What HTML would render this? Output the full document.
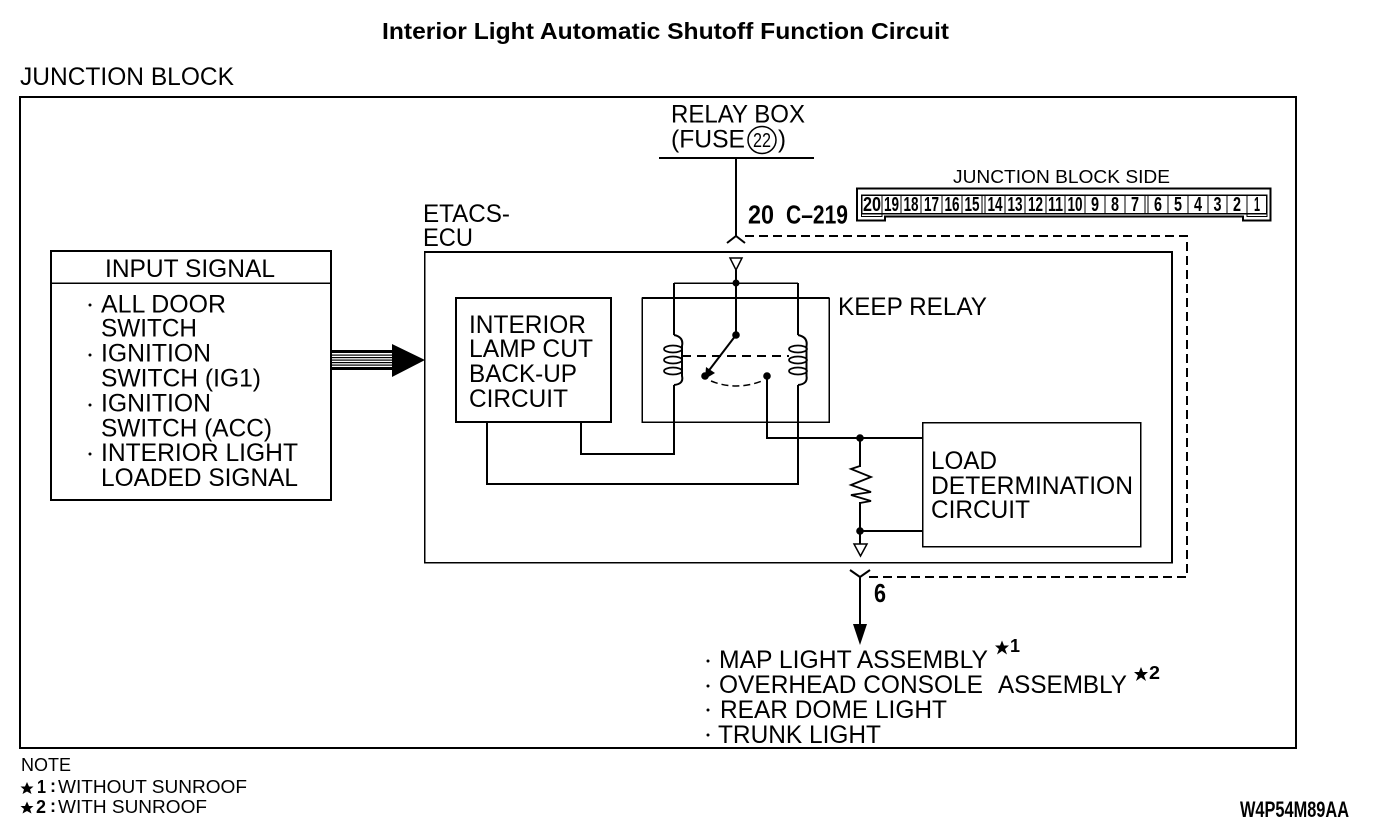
<!DOCTYPE html>
<html><head><meta charset="utf-8"><style>
html,body{margin:0;padding:0;background:#fff}
svg{display:block}
text{font-family:"Liberation Sans",sans-serif;fill:#000}
.l{font-size:25px}
.s{font-size:18px}
.b{font-weight:bold}
.c{font-size:20px;font-weight:bold;text-anchor:middle}
</style></head><body>
<svg width="1392" height="834" viewBox="0 0 1392 834" xmlns="http://www.w3.org/2000/svg">
<rect width="1392" height="834" fill="#fff"/>
<g fill="none" stroke="#000" stroke-width="2" shape-rendering="crispEdges">
<rect x="20" y="97" width="1276" height="651"/>
<rect x="51" y="251" width="280" height="249" stroke-width="1.6"/>
<path d="M51 283H331" stroke-width="1.500"/>
<path d="M659 158H814" />
<path d="M736 158V236"/>
<path d="M424.500 251.500H1172V562.500H424.500Z" stroke-width="1.500"/>
<path d="M1172 251V563"/>
<path d="M425 252H1172"/>
<rect x="456" y="298" width="155" height="124"/>
<path d="M642 298H829V422H642Z" stroke-width="1.500"/>
<path d="M642 298H829" stroke-width="2"/>
<path d="M674 283H798" stroke-width="1.500"/>
<path d="M736 270V335M674 283V335M798 283V335"/>
<path d="M674 385V454H581V422M798 385V484H487V422" stroke-width="1.800"/>
<path d="M767 376V438H922M860 438V467"/>
<rect x="922.500" y="422.500" width="218" height="124" stroke-width="1.500"/>
<path d="M860 502V544M860 531H922"/>
<path d="M860 577V627"/>
<path d="M745 236H1187V577H868" stroke-dasharray="9 5"/>
<path d="M682 356H789" stroke-dasharray="9 6"/>
</g>
<g fill="none" stroke="#000" stroke-width="2">
<path d="M674 335Q684 337 682 346V376Q684 384 674 385"/>
<path d="M798 335Q808 337 806.500 346V376Q808 384 798 385"/>
<ellipse cx="673" cy="349" rx="9" ry="3.500" stroke-width="1.700"/>
<ellipse cx="673" cy="360" rx="9" ry="3.500" stroke-width="1.700"/>
<ellipse cx="673" cy="371" rx="9" ry="3.500" stroke-width="1.700"/>
<ellipse cx="798" cy="349" rx="9" ry="3.500" stroke-width="1.700"/>
<ellipse cx="798" cy="360" rx="9" ry="3.500" stroke-width="1.700"/>
<ellipse cx="798" cy="371" rx="9" ry="3.500" stroke-width="1.700"/>
<path d="M736 335L707 373"/>
<path d="M711 381Q736 391 762 381" stroke-dasharray="7 4" stroke-width="1.500"/>
<path d="M860 466L851 469L871 477L851 485L871 492L851 495L871 501L860 503" stroke-width="1.800"/>
<path d="M727 243L736 236L745 243"/>
<path d="M850 570L860 577L870 570"/>
<path d="M730 258H742L736 270Z" stroke-width="1.500"/>
<path d="M854 544H867L860.500 556Z" stroke-width="1.500"/>
<ellipse cx="762" cy="140" rx="14" ry="13.500" stroke-width="1.500"/>
</g>
<g fill="#000">
<circle cx="736" cy="283" r="3.500"/><circle cx="736" cy="335" r="3.800"/>
<circle cx="705" cy="376" r="3.800"/><circle cx="767" cy="376" r="3.800"/>
<circle cx="860" cy="438" r="3.800"/><circle cx="860" cy="531" r="3.800"/>
<path d="M706 367L715 373L705 379Z"/>
<path d="M853 624H867L860 645Z"/>
<rect x="331" y="350" width="61" height="3"/>
<rect x="331" y="354.500" width="61" height="1.200"/><rect x="331" y="357" width="61" height="1.200"/>
<rect x="331" y="359.500" width="61" height="1.200"/><rect x="331" y="362" width="61" height="1.200"/>
<rect x="331" y="364.500" width="61" height="1.200"/><rect x="331" y="367" width="61" height="3"/>
<path d="M392 344L425 360L392 377Z"/>
<path d="M1002 640.500L1004 645.500L1009 645.500L1005 649L1007 654.500L1002 651L997 654.500L999 649L995 645.500L1000 645.500Z"/>
<path d="M1141 667L1143 672L1148 672L1144 675.500L1146 681L1141 677.500L1136 681L1138 675.500L1134 672L1139 672Z"/>
<path d="M27 782L29 786.500L33.500 786.500L30 789.500L31.500 794L27 791.500L22.500 794L24 789.500L20.500 786.500L25 786.500Z"/>
<path d="M27 801.500L29 806L33.500 806L30 809L31.500 813.500L27 811L22.500 813.500L24 809L20.500 806L25 806Z"/>
<circle cx="90" cy="305" r="1.500"/><circle cx="90" cy="355" r="1.500"/><circle cx="90" cy="405" r="1.500"/><circle cx="90" cy="454" r="1.500"/>
<circle cx="708" cy="661" r="1.500"/><circle cx="708" cy="686" r="1.500"/><circle cx="708" cy="710" r="1.500"/><circle cx="708" cy="735" r="1.500"/>
</g>
<!-- connector -->
<g fill="none" stroke="#000" shape-rendering="crispEdges">
<path d="M857 188.500H1270.500V220.500H1243V216.500H885V220.500H857Z" stroke-width="2"/>
<rect x="861.500" y="195" width="405" height="18.500" stroke-width="1.500"/>
<path d="M861.500 195V216.500H882V213M1247 213V216.500H1267V213" stroke-width="1"/>
<path d="M882 195V213.500M901 195V213.500M921 195V213.500M942 195V213.500M962 195V213.500M982 195V213.500M985 195V213.500M1005 195V213.500M1025 195V213.500M1046 195V213.500M1065 195V213.500M1085 195V213.500M1105 195V213.500M1125 195V213.500M1145 195V213.500M1148 195V213.500M1168 195V213.500M1188 195V213.500M1208 195V213.500M1227 195V213.500M1247 195V213.500" stroke-width="1.200"/>
</g>
<text class="c" x="872" y="211" textLength="18" lengthAdjust="spacingAndGlyphs">20</text>
<text class="c" x="891.500" y="211" textLength="15" lengthAdjust="spacingAndGlyphs">19</text>
<text class="c" x="911" y="211" textLength="15" lengthAdjust="spacingAndGlyphs">18</text>
<text class="c" x="931.500" y="211" textLength="15" lengthAdjust="spacingAndGlyphs">17</text>
<text class="c" x="952" y="211" textLength="15" lengthAdjust="spacingAndGlyphs">16</text>
<text class="c" x="972" y="211" textLength="15" lengthAdjust="spacingAndGlyphs">15</text>
<text class="c" x="995" y="211" textLength="15" lengthAdjust="spacingAndGlyphs">14</text>
<text class="c" x="1015" y="211" textLength="15" lengthAdjust="spacingAndGlyphs">13</text>
<text class="c" x="1035.500" y="211" textLength="15" lengthAdjust="spacingAndGlyphs">12</text>
<text class="c" x="1055.500" y="211" textLength="15" lengthAdjust="spacingAndGlyphs">11</text>
<text class="c" x="1075" y="211" textLength="15" lengthAdjust="spacingAndGlyphs">10</text>
<text class="c" x="1095" y="211" textLength="8" lengthAdjust="spacingAndGlyphs">9</text>
<text class="c" x="1115" y="211" textLength="8" lengthAdjust="spacingAndGlyphs">8</text>
<text class="c" x="1135" y="211" textLength="8" lengthAdjust="spacingAndGlyphs">7</text>
<text class="c" x="1158" y="211" textLength="8" lengthAdjust="spacingAndGlyphs">6</text>
<text class="c" x="1178" y="211" textLength="8" lengthAdjust="spacingAndGlyphs">5</text>
<text class="c" x="1198" y="211" textLength="8" lengthAdjust="spacingAndGlyphs">4</text>
<text class="c" x="1217.500" y="211" textLength="8" lengthAdjust="spacingAndGlyphs">3</text>
<text class="c" x="1237" y="211" textLength="8" lengthAdjust="spacingAndGlyphs">2</text>
<text class="c" x="1257" y="211" textLength="6" lengthAdjust="spacingAndGlyphs">1</text>
<!-- text -->
<text class="b" x="382" y="39" font-size="23" textLength="567" lengthAdjust="spacingAndGlyphs">Interior Light Automatic Shutoff Function Circuit</text>
<text class="l" x="20" y="85" textLength="214" lengthAdjust="spacingAndGlyphs">JUNCTION BLOCK</text>
<text class="l" x="671" y="122.500" textLength="134" lengthAdjust="spacingAndGlyphs">RELAY BOX</text>
<text class="l" x="671" y="147.500" textLength="74" lengthAdjust="spacingAndGlyphs">(FUSE</text>
<text x="753" y="147" font-size="20" textLength="18" lengthAdjust="spacingAndGlyphs">22</text>
<text class="l" x="778" y="147.500" textLength="8" lengthAdjust="spacingAndGlyphs">)</text>
<text class="s" x="953" y="183" textLength="217" lengthAdjust="spacingAndGlyphs">JUNCTION BLOCK SIDE</text>
<text class="b" x="748" y="223.500" font-size="26" textLength="26" lengthAdjust="spacingAndGlyphs">20</text>
<text class="b" x="786" y="223.500" font-size="26" textLength="62" lengthAdjust="spacingAndGlyphs">C–219</text>
<text class="l" x="423" y="222" textLength="87" lengthAdjust="spacingAndGlyphs">ETACS-</text>
<text class="l" x="423" y="246" textLength="50" lengthAdjust="spacingAndGlyphs">ECU</text>
<text class="l" x="105" y="277" textLength="170" lengthAdjust="spacingAndGlyphs">INPUT SIGNAL</text>
<text class="l" x="101" y="312.500" textLength="125" lengthAdjust="spacingAndGlyphs">ALL DOOR</text>
<text class="l" x="101" y="336.500" textLength="96" lengthAdjust="spacingAndGlyphs">SWITCH</text>
<text class="l" x="101" y="361.500" textLength="110" lengthAdjust="spacingAndGlyphs">IGNITION</text>
<text class="l" x="101" y="386.500" textLength="160" lengthAdjust="spacingAndGlyphs">SWITCH (IG1)</text>
<text class="l" x="101" y="411.500" textLength="110" lengthAdjust="spacingAndGlyphs">IGNITION</text>
<text class="l" x="101" y="436.500" textLength="171" lengthAdjust="spacingAndGlyphs">SWITCH (ACC)</text>
<text class="l" x="101" y="461" textLength="197" lengthAdjust="spacingAndGlyphs">INTERIOR LIGHT</text>
<text class="l" x="101" y="486" textLength="197" lengthAdjust="spacingAndGlyphs">LOADED SIGNAL</text>
<text class="l" x="469" y="333" textLength="117" lengthAdjust="spacingAndGlyphs">INTERIOR</text>
<text class="l" x="469" y="357" textLength="124" lengthAdjust="spacingAndGlyphs">LAMP CUT</text>
<text class="l" x="469" y="382" textLength="108" lengthAdjust="spacingAndGlyphs">BACK-UP</text>
<text class="l" x="469" y="407" textLength="99" lengthAdjust="spacingAndGlyphs">CIRCUIT</text>
<text class="l" x="838" y="315" textLength="149" lengthAdjust="spacingAndGlyphs">KEEP RELAY</text>
<text class="l" x="931" y="469" textLength="66" lengthAdjust="spacingAndGlyphs">LOAD</text>
<text class="l" x="931" y="494" textLength="202" lengthAdjust="spacingAndGlyphs">DETERMINATION</text>
<text class="l" x="931" y="518" textLength="99" lengthAdjust="spacingAndGlyphs">CIRCUIT</text>
<text class="b" x="874" y="602" font-size="26" textLength="12" lengthAdjust="spacingAndGlyphs">6</text>
<text class="l" x="719" y="668" textLength="269" lengthAdjust="spacingAndGlyphs">MAP LIGHT ASSEMBLY</text>
<text class="b" x="1010" y="652" font-size="18" textLength="10" lengthAdjust="spacingAndGlyphs">1</text>
<text class="l" x="719" y="693" textLength="264" lengthAdjust="spacingAndGlyphs">OVERHEAD CONSOLE</text>
<text class="l" x="998" y="693" textLength="129" lengthAdjust="spacingAndGlyphs">ASSEMBLY</text>
<text class="b" x="1149" y="679" font-size="18" textLength="11" lengthAdjust="spacingAndGlyphs">2</text>
<text class="l" x="720" y="718" textLength="227" lengthAdjust="spacingAndGlyphs">REAR DOME LIGHT</text>
<text class="l" x="718" y="743" textLength="163" lengthAdjust="spacingAndGlyphs">TRUNK LIGHT</text>
<text class="s" x="21" y="771" textLength="50" lengthAdjust="spacingAndGlyphs">NOTE</text>
<text class="s b" x="37" y="793" textLength="9" lengthAdjust="spacingAndGlyphs">1</text>
<text class="s b" x="50" y="792">:</text>
<text class="s" x="58" y="793" textLength="189" lengthAdjust="spacingAndGlyphs">WITHOUT SUNROOF</text>
<text class="s b" x="36" y="813" textLength="10" lengthAdjust="spacingAndGlyphs">2</text>
<text class="s b" x="50" y="812">:</text>
<text class="s" x="58" y="813" textLength="149" lengthAdjust="spacingAndGlyphs">WITH SUNROOF</text>
<text class="b" x="1240" y="817" font-size="22" textLength="109" lengthAdjust="spacingAndGlyphs">W4P54M89AA</text>
</svg>
</body></html>
